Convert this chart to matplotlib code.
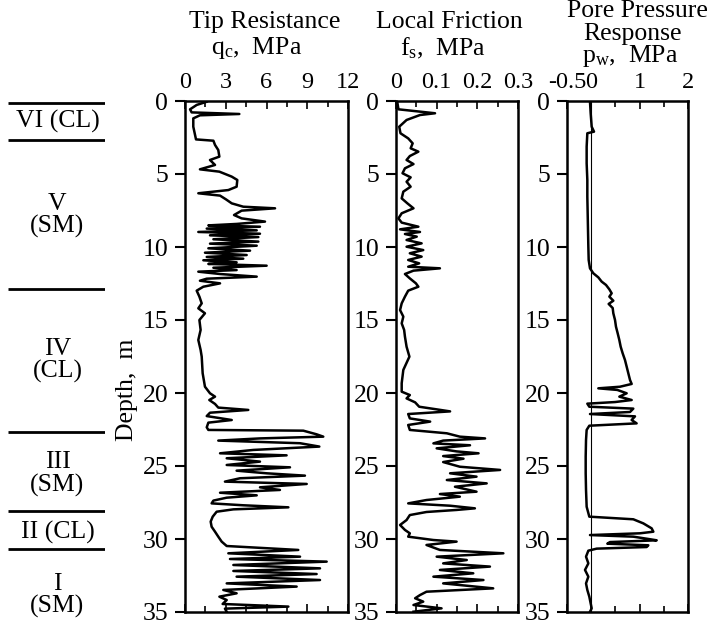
import matplotlib
matplotlib.use("Agg")
import matplotlib.pyplot as plt
from matplotlib.ticker import MultipleLocator

plt.rcParams['font.family'] = ['Liberation Serif', 'DejaVu Serif']
plt.rcParams['mathtext.fontset'] = 'custom'
plt.rcParams['mathtext.rm'] = 'Liberation Serif'
plt.rcParams['mathtext.it'] = 'Liberation Serif:italic'

# soil layers (depth of boundaries, m) and their labels
layer_bounds = [0.12, 2.67, 12.9, 22.65, 28.08, 30.7]
layer_names = ["VI (CL)", "V\n(SM)", "IV\n(CL)", "III\n(SM)", "II (CL)", "I\n(SM)"]
layer_mid = [1.42, 7.87, 17.77, 25.55, 29.52, 33.84]

# tip resistance qc (MPa) vs depth (m)
qc_depth = [0.05, 0.27, 0.57, 0.78, 0.89, 0.98, 1.19, 1.76, 2.33, 2.63, 2.72, 3.01, 3.36, 3.81,
            4.04, 4.38, 4.68, 4.84, 5.18, 5.41, 5.87, 6.10, 6.32, 6.48, 6.74, 7.01, 7.24, 7.35,
            7.51, 7.81, 8.04, 8.26, 8.42, 8.52, 8.61, 8.74, 8.86, 8.97, 9.09, 9.20, 9.32, 9.47,
            9.63, 9.77, 9.91, 10.09, 10.25, 10.39, 10.55, 10.68, 10.80, 10.91, 11.05, 11.16,
            11.28, 11.42, 11.58, 11.69, 11.85, 12.03, 12.17, 12.31, 12.49, 12.72, 12.99, 13.40,
            13.86, 14.20, 14.54, 15.00, 15.68, 16.37, 17.05, 17.51, 18.65, 19.57, 20.02, 20.25,
            20.48, 20.75, 21.00, 21.16, 21.35, 21.58, 21.85, 22.03, 22.35, 22.53, 22.58, 22.83,
            22.99, 23.11, 23.26, 23.44, 23.67, 23.90, 24.13, 24.27, 24.47, 24.70, 24.93, 25.09,
            25.32, 25.50, 25.66, 25.84, 26.07, 26.23, 26.46, 26.64, 26.83, 27.01, 27.17, 27.37,
            27.56, 27.69, 27.83, 27.97, 28.13, 28.47, 28.81, 29.16, 29.50, 29.84, 30.18, 30.48,
            30.75, 30.98, 31.21, 31.37, 31.55, 31.78, 32.01, 32.19, 32.40, 32.58, 32.81, 33.04,
            33.26, 33.49, 33.72, 33.95, 34.18, 34.45, 34.63, 34.77, 34.98]
qc_value = [1.6, 0.86, 0.37, 0.49, 4.0, 1.1, 0.61, 0.61, 0.74, 0.81, 2.09, 2.21, 2.45, 2.53,
            1.84, 2.21, 1.10, 2.53, 3.44, 3.85, 3.80, 3.19, 0.98, 2.58, 3.02, 3.44, 4.29, 6.63,
            4.17, 3.61, 4.17, 5.89, 3.80, 1.72, 5.52, 1.60, 5.28, 0.98, 5.52, 1.84, 5.40, 2.09,
            5.40, 1.84, 5.28, 1.72, 4.79, 1.47, 4.54, 1.60, 4.29, 1.35, 3.80, 1.72,
            6.01, 2.09, 3.80, 0.98, 2.58, 5.28, 1.60, 1.10, 2.58, 1.35, 0.86, 1.06,
            1.23, 0.98, 1.47, 1.06, 1.15, 0.98, 1.15, 1.23, 1.30, 1.47, 1.84, 2.21,
            1.79, 2.21, 2.45, 4.66, 1.84, 1.60, 3.44, 1.72, 1.60, 1.72, 8.71, 9.69,
            10.18, 5.52, 2.45, 8.47, 9.89, 5.03, 2.58, 7.48, 3.07, 5.52, 3.07, 7.73,
            3.80, 6.01, 8.83, 4.05, 2.94, 8.96, 5.52, 6.99, 2.58, 5.28, 3.07, 2.09,
            1.96, 4.29, 7.61, 3.56, 2.33, 2.04, 1.89, 1.96, 2.21, 2.45, 2.70, 3.07,
            8.34, 3.19, 8.47, 3.31, 10.43, 3.56, 9.94, 3.56, 9.69, 3.80, 9.94, 3.07,
            8.22, 2.82, 3.80, 2.53, 3.07, 2.77, 7.61, 2.94, 3.07]

# local friction fs (MPa) vs depth (m)
fs_depth = [0.05, 0.57, 0.84, 0.96, 1.30, 1.76, 2.21, 2.56, 2.90, 3.24, 3.47, 3.77, 4.04, 4.32,
            4.61, 4.95, 5.23, 5.53, 5.87, 6.21, 6.67, 7.01, 7.35, 7.69, 8.04, 8.33, 8.61, 8.79,
            8.97, 9.11, 9.29, 9.52, 9.75, 9.98, 10.21, 10.43, 10.66, 10.89, 11.12, 11.35, 11.46,
            11.62, 11.85, 12.15, 12.49, 12.72, 12.99, 13.40, 13.86, 14.32, 14.77, 15.23, 15.68,
            16.14, 16.83, 17.51, 18.42, 19.33, 19.91, 20.14, 20.37, 20.64, 20.94, 21.12, 21.26,
            21.44, 21.74, 21.96, 22.19, 22.53, 22.76, 22.99, 23.11, 23.26, 23.45, 23.58, 23.79,
            24.00, 24.13, 24.32, 24.50, 24.73, 25.05, 25.27, 25.50, 25.73, 25.96, 26.19, 26.42,
            26.76, 26.92, 27.10, 27.33, 27.56, 27.72, 27.90, 28.01, 28.15, 28.36, 28.70, 29.04,
            29.38, 29.61, 29.84, 30.07, 30.18, 30.41, 30.75, 30.98, 31.21, 31.44, 31.67, 31.89,
            32.12, 32.35, 32.58, 32.81, 33.04, 33.38, 33.61, 33.84, 34.06, 34.29, 34.52, 34.75,
            34.98]
fs_value = [0.003, 0.006, 0.096, 0.059, 0.026, 0.008, 0.011, 0.030, 0.041, 0.036, 0.055, 0.034,
            0.026, 0.043, 0.022, 0.016, 0.036, 0.026, 0.036, 0.018, 0.014, 0.028, 0.043, 0.014,
            0.006, 0.014, 0.055, 0.010, 0.059, 0.022, 0.051, 0.026, 0.063, 0.026, 0.067, 0.034,
            0.063, 0.030, 0.057, 0.030, 0.108, 0.043, 0.022, 0.034, 0.049, 0.055, 0.030, 0.022,
            0.014, 0.010, 0.018, 0.014, 0.020, 0.022, 0.026, 0.033, 0.018, 0.014, 0.014, 0.034,
            0.026, 0.047, 0.057, 0.100, 0.133, 0.030, 0.034, 0.084, 0.030, 0.034, 0.125, 0.157,
            0.219, 0.116, 0.092, 0.182, 0.100, 0.149, 0.203, 0.116, 0.166, 0.116, 0.157, 0.256,
            0.133, 0.198, 0.125, 0.223, 0.145, 0.198, 0.108, 0.157, 0.075, 0.030, 0.133, 0.194,
            0.149, 0.075, 0.034, 0.026, 0.010, 0.022, 0.034, 0.030, 0.092, 0.149, 0.075, 0.108,
            0.264, 0.100, 0.174, 0.116, 0.231, 0.108, 0.190, 0.092, 0.215, 0.116, 0.239, 0.075,
            0.059, 0.047, 0.067, 0.043, 0.112, 0.043]

# pore pressure response pw (MPa) vs depth (m)
pw_depth = [0.05, 0.84, 1.76, 2.10, 2.21, 3.13, 4.27, 5.41, 6.55, 7.69, 8.84, 9.98, 10.89, 11.46,
            11.80, 12.08, 12.37, 12.60, 12.90, 13.17, 13.40, 13.68, 13.90, 14.18, 14.54, 15.00,
            15.46, 15.91, 16.37, 16.83, 17.28, 17.74, 18.20, 18.65, 19.11, 19.38, 19.57, 19.68,
            19.79, 20.02, 20.25, 20.48, 20.62, 20.73, 20.94, 21.07, 21.30, 21.44, 21.60, 21.85,
            22.08, 22.24, 22.53, 23.22, 24.36, 25.50, 26.64, 27.79, 28.47, 28.65, 28.93, 29.27,
            29.50, 29.61, 29.73, 29.84, 29.98, 30.09, 30.21, 30.32, 30.43, 30.55, 30.66, 30.80,
            31.21, 31.67, 32.12, 32.58, 33.04, 33.49, 33.95, 34.41, 34.75, 34.98]
pw_value = [-0.025, -0.011, 0.010, 0.058, -0.080, -0.094, -0.094, -0.080, -0.080, -0.073, -0.066,
            -0.059, -0.052, -0.025, 0.044, 0.147, 0.216, 0.306, 0.375, 0.423, 0.375, 0.457, 0.361,
            0.444, 0.457, 0.492, 0.512, 0.547, 0.581, 0.609, 0.650, 0.698, 0.733, 0.767, 0.802,
            0.836, 0.595, 0.147, 0.540, 0.733, 0.581, 0.836, 0.492, -0.080, -0.039, 0.870, 0.802,
            -0.025, 0.905, 0.836, 0.939, -0.039, -0.094, -0.107, -0.114, -0.114, -0.107, -0.094,
            -0.039, 0.870, 1.077, 1.249, 1.284, 1.008, -0.025, 0.870, 1.146, 1.353, 0.388, 0.333,
            1.180, 1.146, 0.113, -0.059, -0.107, -0.059, -0.128, -0.059, -0.107, -0.080, -0.039,
            -0.011, 0.010, -0.025]

W, H = 718, 625
fig = plt.figure(figsize=(W / 100, H / 100), dpi=100)
top, bot = 101, 612
fs_txt = 18.5


def box(x0, x1):
    return [x0 / W, 1 - bot / H, (x1 - x0) / W, (bot - top) / H]


def style(ax, xlim, major, minor, xticks=None, xlabels=None):
    ax.set_ylim(35, 0)
    ax.set_xlim(*xlim)
    ax.xaxis.tick_top()
    if xticks is not None:
        ax.set_xticks(xticks, xlabels)
    else:
        ax.xaxis.set_major_locator(MultipleLocator(major))
    ax.xaxis.set_minor_locator(MultipleLocator(minor))
    ax.tick_params(axis='x', which='both', direction='in', top=True, bottom=True,
                   labelsize=fs_txt - 1, pad=6)
    ax.tick_params(axis='x', which='major', length=6, width=1.2)
    ax.tick_params(axis='x', which='minor', length=4, width=1.2)
    ax.set_yticks(range(0, 36, 5))
    ax.tick_params(axis='y', direction='out', length=7, width=1.5, labelsize=fs_txt, pad=5,
                   right=False)
    for s in ax.spines.values():
        s.set_linewidth(1.8)


# layer column
ax0 = fig.add_axes(box(8, 105))
ax0.set_ylim(35, 0)
ax0.set_xlim(0, 1)
ax0.axis('off')
ax0.hlines(layer_bounds, 0, 1, color='black', lw=2)
for name, d in zip(layer_names, layer_mid):
    ax0.text(0.51, d, name, ha='center', va='center', fontsize=fs_txt, linespacing=1.0)

ax1 = fig.add_axes(box(185, 348))
ax1.plot(qc_value, qc_depth, color='black', lw=1.8)
style(ax1, (0, 12), 3, 1.5)
ax1.set_ylabel("Depth,  m", fontsize=fs_txt)
ax1.yaxis.set_label_coords(-0.29, 0.434)

ax2 = fig.add_axes(box(396, 518))
ax2.plot(fs_value, fs_depth, color='black', lw=1.8)
style(ax2, (0, 0.3), 0.1, 0.05, [0, 0.1, 0.2, 0.3], ["0", "0.1", "0.2", "0.3"])

ax3 = fig.add_axes(box(567, 688))
ax3.axvline(0, color='black', lw=0.8)
ax3.plot(pw_value, pw_depth, color='black', lw=1.8)
style(ax3, (-0.5, 2), 1, 0.5, [-0.5, 0, 1, 2], ["-0.5", "0", "1", "2"])

# panel headings
fig.text(265 / W, 1 - 22 / H, "Tip Resistance", ha='center', va='center', fontsize=fs_txt)
fig.text(257 / W, 1 - 48 / H, r"q$_\mathrm{c}$,  MPa", ha='center', va='center', fontsize=fs_txt)
fig.text(449 / W, 1 - 22 / H, "Local Friction", ha='center', va='center', fontsize=fs_txt)
fig.text(443 / W, 1 - 48 / H, r"f$_\mathrm{s}$,  MPa", ha='center', va='center', fontsize=fs_txt)
fig.text(637 / W, 1 - 11 / H, "Pore Pressure", ha='center', va='center', fontsize=fs_txt)
fig.text(633 / W, 1 - 34 / H, "Response", ha='center', va='center', fontsize=fs_txt)
fig.text(630 / W, 1 - 56 / H, r"p$_\mathrm{w}$,  MPa", ha='center', va='center', fontsize=fs_txt)

fig.savefig("out.png", dpi=100)
